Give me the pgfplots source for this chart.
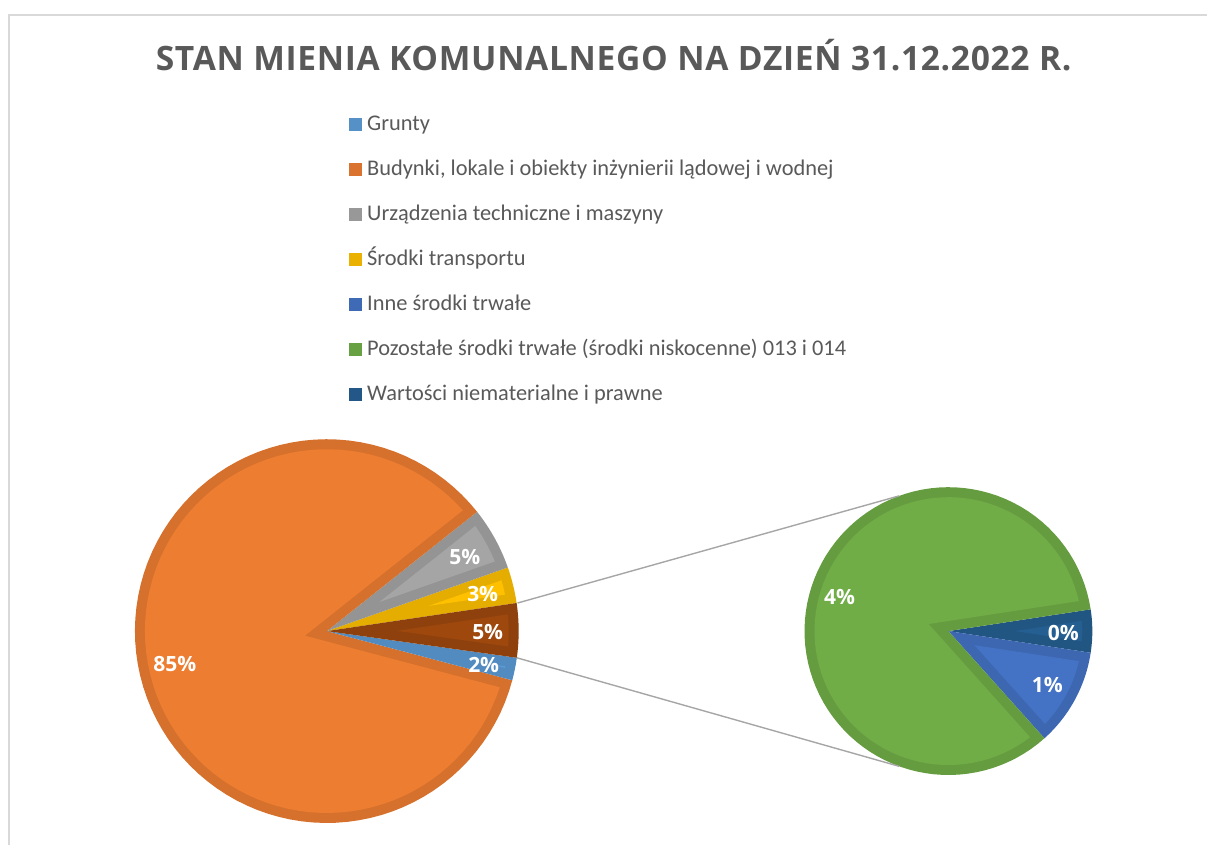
\documentclass[border=0pt]{standalone}
\usepackage{fontspec}
\setmainfont{Carlito}
\newfontfamily\osans{Open Sans}
\newfontfamily\titlefont{Open Sans}[LetterSpace=2.0]
\usepackage{pgfplots}
\pgfplotsset{compat=1.18}

\definecolor{cGr}{HTML}{5B9BD5}
\definecolor{cBu}{HTML}{ED7D31}
\definecolor{cUr}{HTML}{A5A5A5}
\definecolor{cSt}{HTML}{FFC000}
\definecolor{cIn}{HTML}{4472C4}
\definecolor{cPo}{HTML}{70AD47}
\definecolor{cWa}{HTML}{255E91}
\definecolor{cOt}{HTML}{9E480E}
\definecolor{cTxt}{HTML}{595959}
\definecolor{cFrame}{HTML}{D9D9D9}
\definecolor{cConn}{HTML}{A6A6A6}

% data (percent of total)
\def\vGr{1.9}
\def\vBu{85.2}
\def\vUr{5.3}
\def\vSt{3.04}
\def\vIn{0.50}
\def\vPo{3.84}
\def\vWa{0.22}

\def\bw{10}
% slice: #1 cx, #2 cy, #3 R, #4 start angle, #5 end angle, #6 colour
\newcommand\slice[6]{%
  \pgfmathsetmacro\sa{#4+asin(\bw/(#3-\bw))}%
  \pgfmathsetmacro\sb{#5-asin(\bw/(#3-\bw))}%
  \pgfmathsetmacro\px{#1+\bw/sin((#5-#4)/2)*cos((#4+#5)/2)}%
  \pgfmathsetmacro\py{#2+\bw/sin((#5-#4)/2)*sin((#4+#5)/2)}%
  \pgfmathsetmacro\rin{#3-\bw}%
  \edef\doslice{%
    \noexpand\addplot[forget plot, draw=none, fill=#6!90!black, domain=#4:#5, samples=90, variable=\noexpand\t]
      ({#1+#3*cos(\noexpand\t)},{#2+#3*sin(\noexpand\t)}) -- (axis cs:#1,#2) -- cycle;
    \noexpand\addplot[forget plot, draw=none, fill=#6, domain=\sa:\sb, samples=90, variable=\noexpand\t]
      ({#1+\rin*cos(\noexpand\t)},{#2+\rin*sin(\noexpand\t)}) -- (axis cs:\px,\py) -- cycle;
  }%
  \doslice
}

% angles, left pie
\pgfmathsetmacro\vOt{\vIn+\vPo+\vWa}
\pgfmathsetmacro\aA{8.42}
\pgfmathsetmacro\aB{\aA+3.6*\vSt}
\pgfmathsetmacro\aC{\aB+3.6*\vUr}
\pgfmathsetmacro\aD{\aC+3.6*\vBu}
\pgfmathsetmacro\aE{\aD+3.6*\vGr}
\pgfmathsetmacro\aF{\aE+3.6*\vOt}
% angles, right pie
\pgfmathsetmacro\bA{8.7}
\pgfmathsetmacro\bB{\bA-360*\vWa/\vOt}
\pgfmathsetmacro\bC{\bB-360*\vIn/\vOt}
\pgfmathsetmacro\bD{\bC+360}

\begin{document}
\begin{tikzpicture}
\begin{axis}[
  width=604pt, height=423pt, scale only axis,
  xmin=0, xmax=1208, ymin=0, ymax=846,
  hide axis, clip=false,
  legend cell align=left,
  legend image code/.code={\fill[#1, draw=none] (0pt,-3.25pt) rectangle (6.5pt,3.25pt);},
  legend style={at={(0.2889,0.8652)}, anchor=north west, draw=none, fill=none,
    inner sep=0pt, row sep=12pt, column sep=2.5pt,
    font=\fontsize{11.2}{13}\selectfont, text=cTxt,
    nodes={inner sep=0pt, text height=8pt, text depth=2.5pt}},
]
\path (axis cs:0,0) rectangle (axis cs:1208,846);
\draw[cFrame, line width=0.75pt] (axis cs:9,0) -- (axis cs:9,831) -- (axis cs:1208,831);

\node[font=\titlefont\bfseries\fontsize{16.8}{20}\selectfont, text=cTxt, anchor=base]
  at (axis cs:614,775) {STAN MIENIA KOMUNALNEGO NA DZIEŃ 31.12.2022 R.};

% left pie
\slice{327}{214.5}{192}{\aA}{\aB}{cSt}
\slice{327}{214.5}{192}{\aB}{\aC}{cUr}
\slice{327}{214.5}{192}{\aC}{\aD}{cBu}
\slice{327}{214.5}{192}{\aD}{\aE}{cGr}
\slice{327}{214.5}{192}{\aE}{\aF}{cOt}
% right pie
\slice{949}{214.5}{144}{\bB}{\bA}{cWa}
\slice{949}{214.5}{144}{\bC}{\bB}{cIn}
\slice{949}{214.5}{144}{\bA}{\bD}{cPo}

% connectors
\addplot[forget plot, cConn, line width=0.7pt] coordinates {(517.9,242.6) (899.7,349.8)};
\addplot[forget plot, cConn, line width=0.7pt] coordinates {(517.1,187.8) (899.7,79.2)};

% data labels
\begin{scope}[every node/.style={font=\osans\bfseries\fontsize{10.5}{12}\selectfont, text=white}]
\node at (axis cs:175,182) {85\%};
\node at (axis cs:465,289) {5\%};
\node at (axis cs:483,252) {3\%};
\node at (axis cs:488,214) {5\%};
\node at (axis cs:484,181) {2\%};
\node at (axis cs:840,249) {4\%};
\node at (axis cs:1064,213) {0\%};
\node at (axis cs:1048,161) {1\%};
\end{scope}

% legend
\addlegendimage{fill=cGr!93!black}
\addlegendentry{Grunty}
\addlegendimage{fill=cBu!92!black}
\addlegendentry{Budynki, lokale i obiekty inżynierii lądowej i wodnej}
\addlegendimage{fill=cUr!92!black}
\addlegendentry{Urządzenia techniczne i maszyny}
\addlegendimage{fill=cSt!92!black}
\addlegendentry{Środki transportu}
\addlegendimage{fill=cIn!93!black}
\addlegendentry{Inne środki trwałe}
\addlegendimage{fill=cPo!93!black}
\addlegendentry{Pozostałe środki trwałe (środki niskocenne) 013 i 014}
\addlegendimage{fill=cWa!93!black}
\addlegendentry{Wartości niematerialne i prawne}
\end{axis}
\end{tikzpicture}
\end{document}
